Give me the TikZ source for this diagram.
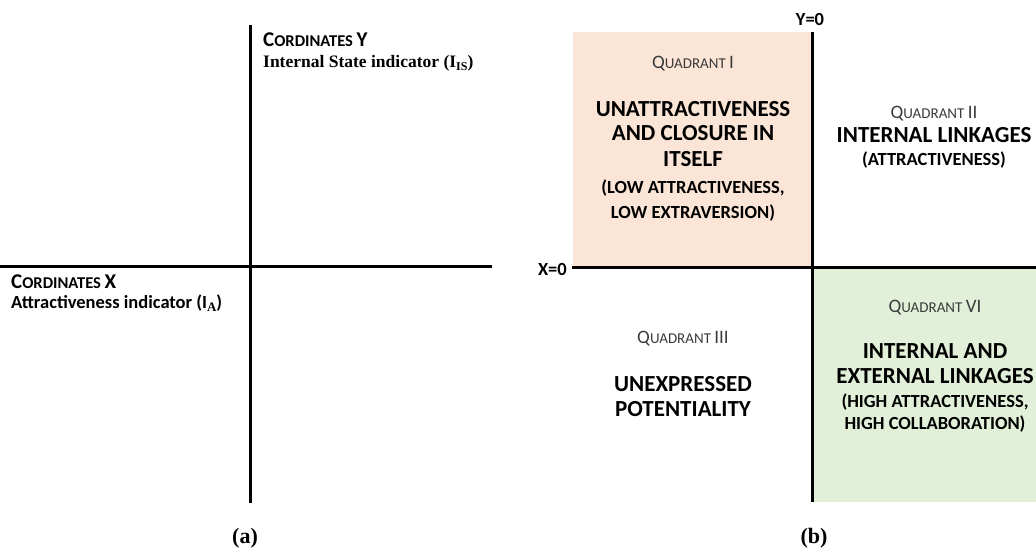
\documentclass[tikz,border=0pt]{standalone}
\usepackage{fontspec}
\setmainfont{Carlito}
\newfontfamily\serifbold{Liberation Serif}
\definecolor{pinkq}{HTML}{FBE5D6}
\definecolor{greenq}{HTML}{E2F0D9}
\definecolor{qgray}{HTML}{3A3A3A}
\newcommand{\quadlabel}[1]{{\fontsize{19}{21}\selectfont Q}{\fontsize{15}{17}\selectfont UADRANT }{\fontsize{19}{21}\selectfont #1}}
\newcommand{\cordlabel}[1]{{\fontsize{21}{23}\selectfont C}{\fontsize{16.5}{18}\selectfont ORDINATES }{\fontsize{21}{23}\selectfont #1}}
\tikzset{
  axis/.style={line width=3pt, black},
  bigtxt/.style={font=\bfseries\fontsize{23}{27}\selectfont, anchor=base, inner sep=0pt},
  midtxt/.style={font=\bfseries\fontsize{18.5}{22}\selectfont, anchor=base, inner sep=0pt},
  qtxt/.style={text=qgray, anchor=base, inner sep=0pt},
  captxt/.style={font=\serifbold\bfseries\fontsize{22}{26}\selectfont, anchor=base, inner sep=0pt},
}
\begin{document}
\begin{tikzpicture}[x=1pt, y=-1pt]
\useasboundingbox (0,0) rectangle (1036,552);
% panel (a)
\coordinate (aT) at (250,25);
\coordinate (aB) at (250,503);
\coordinate (aL) at (0,266);
\coordinate (aR) at (492,266);
\draw[axis] (aT) -- (aB);
\draw[axis] (aL) -- (aR);
\node[anchor=base west, inner sep=0pt, font=\bfseries] (cy) at (263,46) {\cordlabel{Y}};
\node[anchor=base west, inner sep=0pt, font=\serifbold\bfseries\fontsize{17.5}{20}\selectfont] (isi) at (263,67) {Internal State indicator (I\raisebox{-3pt}{\fontsize{12}{14}\selectfont IS})};
\node[anchor=base west, inner sep=0pt, font=\bfseries] (cx) at (11,288) {\cordlabel{X}};
\node[anchor=base west, inner sep=0pt, font=\bfseries\fontsize{18.5}{22}\selectfont] (ai) at (11,308) {Attractiveness indicator (I\raisebox{-3pt}{\serifbold\bfseries\fontsize{13}{14}\selectfont A})};
\node[captxt] (capa) at (245,543) {(a)};
% panel (b)
\fill[pinkq] (573,32) rectangle (812,267);
\fill[greenq] (812,267) rectangle (1036,502);
\coordinate (bT) at (812,32);
\coordinate (bB) at (812,502);
\coordinate (bL) at (572,267);
\coordinate (bR) at (1036,267);
\draw[axis] (bT) -- (bB);
\draw[axis] (bL) -- (bR);
\node[midtxt] (y0) at (810,25) {Y=0};
\node[midtxt, anchor=base east] (x0) at (567,275) {X=0};
% quadrant I
\node[qtxt] (q1) at (693,68) {\quadlabel{I}};
\node[bigtxt] (q1a) at (693,116) {UNATTRACTIVENESS};
\node[bigtxt] (q1b) at (693,140) {AND CLOSURE IN};
\node[bigtxt] (q1c) at (693,166) {ITSELF};
\node[midtxt] (q1d) at (693,193) {(LOW ATTRACTIVENESS,};
\node[midtxt] (q1e) at (693,218) {LOW EXTRAVERSION)};
% quadrant II
\node[qtxt] (q2) at (934,118) {\quadlabel{II}};
\node[bigtxt] (q2a) at (934,142) {INTERNAL LINKAGES};
\node[midtxt] (q2b) at (934,165) {(ATTRACTIVENESS)};
% quadrant III
\node[qtxt] (q3) at (683,343) {\quadlabel{III}};
\node[bigtxt] (q3a) at (683,391) {UNEXPRESSED};
\node[bigtxt] (q3b) at (683,416) {POTENTIALITY};
% quadrant VI
\node[qtxt] (q6) at (935,312) {\quadlabel{VI}};
\node[bigtxt] (q6a) at (935,358) {INTERNAL AND};
\node[bigtxt] (q6b) at (935,383) {EXTERNAL LINKAGES};
\node[midtxt] (q6c) at (935,407) {(HIGH ATTRACTIVENESS,};
\node[midtxt] (q6d) at (935,429) {HIGH COLLABORATION)};
\node[captxt] (capb) at (814,543) {(b)};
\end{tikzpicture}
\end{document}
